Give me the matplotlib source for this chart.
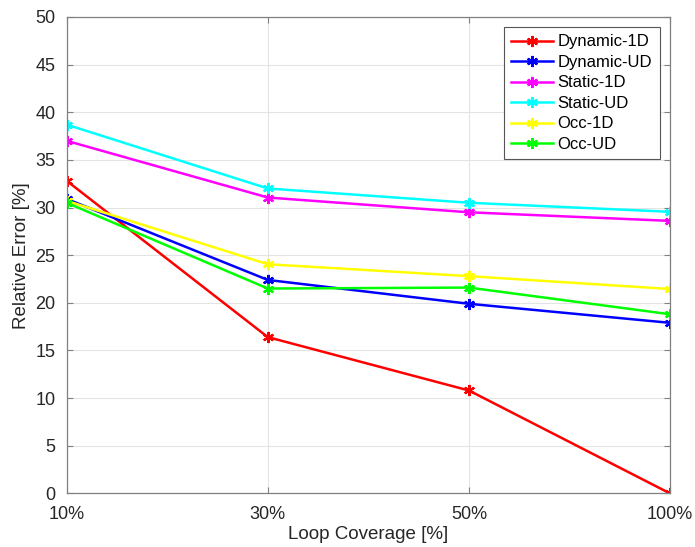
import numpy as np
import matplotlib.pyplot as plt

plt.rcParams['font.family'] = ['Liberation Sans', 'DejaVu Sans']

# data
COVERAGE = ['10%', '30%', '50%', '100%']
DYNAMIC_1D = [32.8, 16.4, 10.8, 0.0]
DYNAMIC_UD = [30.9, 22.4, 19.9, 17.9]
STATIC_1D = [37.0, 31.05, 29.5, 28.6]
STATIC_UD = [38.7, 32.0, 30.5, 29.55]
OCC_1D = [30.7, 24.05, 22.8, 21.45]
OCC_UD = [30.5, 21.5, 21.6, 18.8]

SERIES = [
    ('Dynamic-1D', DYNAMIC_1D, '#ff0000'),
    ('Dynamic-UD', DYNAMIC_UD, '#0000ff'),
    ('Static-1D', STATIC_1D, '#ff00ff'),
    ('Static-UD', STATIC_UD, '#00ffff'),
    ('Occ-1D', OCC_1D, '#ffff00'),
    ('Occ-UD', OCC_UD, '#00ff00'),
]

fig = plt.figure(figsize=(6.95, 5.47), dpi=100)
ax = fig.add_axes([0.096, 0.098, 0.868, 0.871])

x = np.arange(1, len(COVERAGE) + 1)
for name, vals, color in SERIES:
    ax.plot(x, vals, color=color, linewidth=1.8, marker=(6, 2, 0),
            markersize=8, markeredgewidth=1.6, label=name)

ax.set_xlim(1, 4)
ax.set_ylim(0, 50)
ax.set_xticks(x)
ax.set_xticklabels(COVERAGE)
ax.set_yticks(np.arange(0, 51, 5))
ax.grid(True, color='#e3e3e3', linewidth=0.8)
ax.set_axisbelow(True)
ax.tick_params(direction='in', top=True, right=True, labelsize=13,
               colors='#808080', labelcolor='#262626', length=4, width=0.8)
ax.tick_params(axis='x', pad=9)
ax.tick_params(axis='y', pad=8)
for sp in ax.spines.values():
    sp.set_color('#808080')
    sp.set_linewidth(0.9)

ax.set_xlabel('Loop Coverage [%]', fontsize=13.5, color='#262626', labelpad=2)
ax.set_ylabel('Relative Error [%]', fontsize=13.5, color='#262626', labelpad=4)

leg = ax.legend(loc='upper right', bbox_to_anchor=(0.983, 0.979), fontsize=12,
                fancybox=False, framealpha=1, edgecolor='#555555',
                handlelength=2.5, borderpad=0.45, labelspacing=0.33,
                handletextpad=0.3, borderaxespad=0)
leg.get_frame().set_linewidth(0.8)

fig.savefig('out.png')
